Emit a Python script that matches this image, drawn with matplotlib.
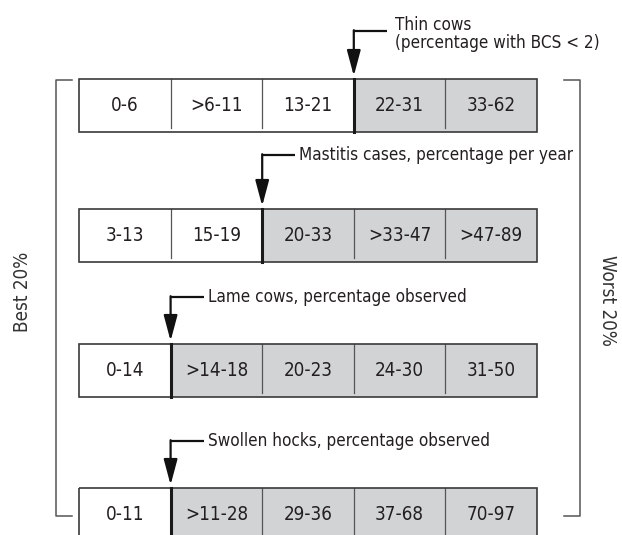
import matplotlib.pyplot as plt
from matplotlib import font_manager
from matplotlib.patches import Rectangle

# look for a narrow sans face, like the condensed font of the original
fonts = font_manager.fontManager.ttflist
names = {f.name for f in fonts}
stretch = "normal"
if "Liberation Sans Narrow" in names:
    family = "Liberation Sans Narrow"
elif any(f.name == "DejaVu Sans" and f.stretch == "condensed" for f in fonts):
    family = "DejaVu Sans"
    stretch = "condensed"
elif "Roboto Condensed" in names:
    family = "Roboto Condensed"
else:
    family = "Roboto" if "Roboto" in names else "DejaVu Sans"
plt.rcParams['font.family'] = [family, 'DejaVu Sans']
plt.rcParams['font.stretch'] = stretch

# indicators, top to bottom
labels = [
    "Thin cows\n(percentage with BCS < 2)",
    "Mastitis cases, percentage per year",
    "Lame cows, percentage observed",
    "Swollen hocks, percentage observed",
]
ranges = [
    ["0-6", ">6-11", "13-21", "22-31", "33-62"],
    ["3-13", "15-19", "20-33", ">33-47", ">47-89"],
    ["0-14", ">14-18", "20-23", "24-30", "31-50"],
    ["0-11", ">11-28", "29-36", "37-68", "70-97"],
]
# number of white (acceptable) classes before the arrow
n_good = [3, 2, 1, 1]

# layout (pixels, origin top-left)
box_left = 79
cell_w = 91.6
row_h = 53
row_tops = [79, 209, 344, 488]
elbow_y = [31, 155, 297, 441]
elbow_len = 33

fill_grey = "#d1d3d4"
edge = "#3a3a3a"
txt_col = "#231f20"

fig = plt.figure(figsize=(6.22, 5.35), dpi=100)
ax = fig.add_axes([0, 0, 1, 1])
ax.set_xlim(0, 622)
ax.set_ylim(535, 0)
ax.axis("off")

# size the font so the mastitis label is ~276 px wide, as in the original
renderer = fig.canvas.get_renderer()
probe = ax.text(0, 0, labels[1], fontsize=14)
w = probe.get_window_extent(renderer).width
probe.remove()
fs = min(15, 14 * 276 / w)
fs_cell = min(15, fs * 1.1)

for r, (lab, cells) in enumerate(zip(labels, ranges)):
    top = row_tops[r]
    for c, txt in enumerate(cells):
        x0 = box_left + c * cell_w
        color = "white" if c < n_good[r] else fill_grey
        ax.add_patch(Rectangle((x0, top), cell_w, row_h, facecolor=color,
                               edgecolor="none", zorder=1))
        ax.text(x0 + cell_w / 2, top + row_h / 2, txt, ha="center",
                va="center", fontsize=fs_cell, color=txt_col, zorder=3)
        if c > 0 and c != n_good[r]:
            ax.plot([x0, x0], [top, top + row_h - 4], color="#555555",
                    lw=0.9, zorder=2)
    ax.add_patch(Rectangle((box_left, top), cell_w * len(cells), row_h,
                           facecolor="none", edgecolor=edge, lw=1.2, zorder=4))
    # bold split line where the arrow points
    xs = box_left + n_good[r] * cell_w
    ax.plot([xs, xs], [top, top + row_h], color="#1a1a1a", lw=2.2, zorder=5)

    # elbow arrow + label
    ey = elbow_y[r]
    ax.plot([xs, xs + elbow_len], [ey, ey], color="#111111", lw=1.6,
            solid_capstyle="butt", zorder=5)
    ax.annotate("", xy=(xs, top - 3), xytext=(xs, ey - 0.8),
                arrowprops=dict(arrowstyle="-|>,head_length=0.6,head_width=0.16",
                                mutation_scale=26, lw=1.6, color="#111111",
                                shrinkA=0, shrinkB=0), zorder=5)
    if "\n" in lab:
        ax.text(xs + elbow_len + 8, ey - 15, lab, ha="left", va="top",
                fontsize=fs, color=txt_col, linespacing=1.0)
    else:
        ax.text(xs + elbow_len + 4, ey, lab, ha="left", va="center",
                fontsize=fs, color=txt_col)

# brackets for best / worst 20%
br_top, br_bot = 80, 516
ax.plot([72, 56, 56, 72], [br_top, br_top, br_bot, br_bot], color="#555555", lw=1.1)
ax.plot([564, 580, 580, 564], [br_top, br_top, br_bot, br_bot], color="#555555", lw=1.1)
ax.text(22, 292, "Best 20%", rotation=90, ha="center", va="center",
        fontsize=fs_cell, color="#333333")
ax.text(608, 300, "Worst 20%", rotation=-90, ha="center", va="center",
        fontsize=fs_cell, color="#333333")

fig.savefig("out.png", dpi=100)
